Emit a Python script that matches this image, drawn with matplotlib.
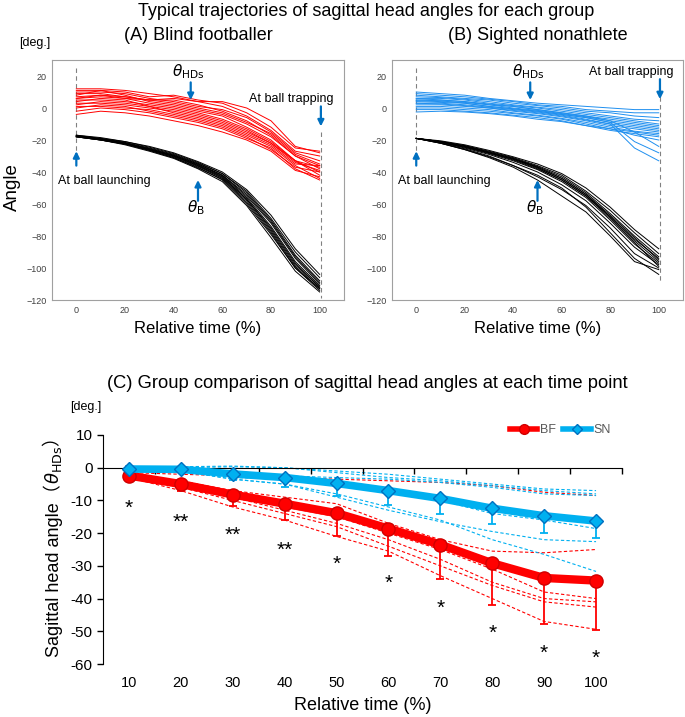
import matplotlib.pyplot as plt
from matplotlib.lines import Line2D

plt.rcParams['font.family'] = ['Liberation Sans', 'DejaVu Sans']
plt.rcParams['mathtext.fontset'] = 'dejavusans'

# ---- panels A and B: trajectories sampled every 10 % of relative time
time_pct = [0, 10, 20, 30, 40, 50, 60, 70, 80, 90, 100]

bf_head = [
    [12, 12, 11, 9, 7, 4, 1, -5, -14, -27, -30],
    [11, 11, 10, 7, 8, 5, 3, -3, -12, -25, -27],
    [10, 10, 9, 6, 4, 1, -1, -6, -15, -28, -33],
    [9, 9, 7, 5, 5, 2, -2, -8, -17, -30, -36],
    [8, 11, 8, 4, 2, -1, -4, -10, -18, -30, -38],
    [7, 8, 6, 5, 3, 0, -3, -9, -16, -29, -35],
    [6, 7, 6, 3, 1, -2, -5, -12, -20, -33, -40],
    [5, 5, 4, 2, 0, -3, -7, -13, -21, -33, -37],
    [4, 6, 5, 1, -1, -4, -8, -14, -22, -34, -39],
    [3, 3, 2, 0, -2, -5, -9, -15, -22, -33, -42],
    [2, 4, 3, 1, -3, -6, -10, -16, -23, -35, -36],
    [1, 1, 0, -1, -4, -7, -11, -17, -24, -36, -44],
    [0, 2, 1, -2, -5, -8, -12, -18, -26, -37, -40],
    [-2, 0, -1, -3, -6, -9, -13, -19, -25, -38, -45],
    [-4, -2, -3, -5, -8, -11, -15, -20, -27, -39, -43],
    [6, 8, 7, 5, 6, 4, 4, 0, -8, -24, -28],
]
bf_ball = [
    [-17, -19, -21, -24, -28, -33.5, -40, -51, -67, -88, -104],
    [-17.5, -19, -21.5, -25, -29, -34.5, -41, -53, -70, -92, -108],
    [-17.5, -19.5, -22, -25.5, -29.5, -35, -42, -55, -72, -94, -110],
    [-17.5, -19.5, -22, -25.5, -30, -35.5, -42.5, -56, -74, -96, -111],
    [-17.5, -19.5, -22, -26, -30, -36, -43, -57, -75, -97, -112],
    [-18, -20, -22.5, -26, -30.5, -36.5, -44, -58, -77, -99, -113],
    [-18, -20, -22.5, -26.5, -31, -37, -45, -60, -79, -100, -114],
    [-18, -20, -23, -27, -31.5, -38, -46, -61, -81, -102, -115],
    [-17.5, -19.5, -22, -25.5, -29.5, -35, -42, -54, -71, -93, -109],
    [-17.5, -19.5, -22, -26, -30, -36, -43.5, -57, -76, -98, -112],
    [-18, -20, -22.5, -26.5, -31, -37.5, -44.5, -59, -78, -100, -113],
    [-17, -18.5, -21, -24.5, -28.5, -34, -41, -52, -69, -90, -106],
]
sn_head = [
    [10, 9, 8, 6, 4.5, 3, 2, 1, 0, -1, -1],
    [9, 8, 7, 5.5, 4, 2, 1, -1, -2, -3, -3],
    [8, 7, 6, 5, 3, 1.5, 0, -2, -3, -5, -6],
    [7, 6.5, 5.5, 4, 2, 0.5, -1, -3, -5, -7, -8],
    [6, 6, 5, 3, 1.5, 0, -2, -4, -6, -8, -10],
    [5, 5, 4, 2.5, 1, -1, -3, -5, -7, -9, -11],
    [4.5, 4, 3.5, 2, 0, -1.5, -3.5, -5.5, -8, -10, -12],
    [4, 3.5, 3, 1, -0.5, -2, -4, -6, -9, -11, -13],
    [3, 3, 2, 0.5, -1, -2.5, -4.5, -7, -10, -12, -14],
    [2, 2, 1, 0, -2, -3.5, -5.5, -8, -11, -13, -15],
    [1, 1, 0, -1, -3, -4.5, -6.5, -9, -12, -14.5, -16],
    [0, 0, -1, -2, -3.5, -5, -7, -10, -13, -15, -17],
    [-1, -1, -2, -3, -4.5, -6, -8, -11, -14, -16, -18],
    [-2.5, -2, -2.5, -3.5, -5, -7, -8.5, -11, -13, -17, -20],
    [5, 4.5, 3, 1, -0.5, -2, -4, -6, -9, -21, -28],
    [3, 2.5, 1.5, 0, -1.5, -3, -5, -7.5, -10, -25, -33],
    [6, 5, 4, 2, 1, -1, -3, -5, -8, -15, -24],
]
sn_ball = [
    [-19, -20.5, -23, -26.5, -30.5, -35, -41, -50, -62, -76, -88],
    [-19, -21, -23.5, -27, -31, -36, -42, -52, -64, -78, -91],
    [-19, -21, -24, -27.5, -31.5, -36.5, -43, -53, -66, -80, -93],
    [-19, -21, -24, -28, -32, -37, -44, -54, -67, -81, -95],
    [-19, -21.5, -24.5, -28, -32.5, -38, -45, -55, -68, -83, -96],
    [-19, -21.5, -24.5, -28.5, -33, -38.5, -46, -56, -70, -85, -97],
    [-19, -21.5, -25, -29, -34, -40, -48, -58, -72, -87, -98],
    [-19, -22, -25.5, -30, -36, -43, -51, -61, -75, -91, -100],
    [-19, -22, -26, -31, -37, -45, -55, -65, -80, -96, -101],
    [-19, -22, -26, -30.5, -36, -42, -50, -62, -78, -94, -104],
    [-19, -21, -23.5, -27.5, -31.5, -37, -44, -54, -68, -82, -94],
    [-19, -21, -24, -28, -32, -37.5, -45, -55, -69, -84, -99],
]

# ---- panel C: group means, SD and individual subjects
groups = ['BF', 'SN']
time_points = [10, 20, 30, 40, 50, 60, 70, 80, 90, 100]
bf_mean = [-2.4, -5.0, -8.2, -11.0, -13.9, -18.6, -23.5, -29.2, -33.7, -34.5]
bf_sd = [1.2, 2.1, 3.6, 5.0, 7.0, 8.5, 10.6, 12.9, 14.2, 15.2]
sn_mean = [-0.4, -0.5, -1.9, -3.0, -4.8, -7.0, -9.4, -12.4, -14.7, -16.3]
sn_sd = [0.4, 0.5, 1.8, 3.0, 3.7, 4.3, 4.7, 4.8, 5.3, 5.1]
bf_subjects = [
    [-1.5, -2, -2.5, -3, -3.5, -4, -4.5, -5.5, -7.5, -8.5],
    [-2, -4, -7, -9, -11, -17, -22, -25.5, -26, -25],
    [-2, -5, -8, -12, -15, -20, -25, -31, -38, -40],
    [-2.5, -5.5, -9, -13, -17, -22, -28, -35, -40, -41],
    [-3, -6, -10, -14, -18, -24, -30, -36, -41, -42.6],
    [-3, -7, -12, -16, -21, -25.5, -33, -40, -47, -49.4],
]
sn_subjects = [
    [0, 0, 0.3, 0, -1, -2, -3.5, -5, -6.5, -7],
    [0, 0.3, 0.5, 0, -1.5, -3, -4, -5.5, -7, -8],
    [0, -0.5, -1, -2.5, -3, -3.5, -4.5, -6, -8, -8.5],
    [-0.5, -1, -3, -3.5, -5, -7, -10, -14, -16, -18.6],
    [-0.5, -1, -3.5, -5, -9, -13, -16.5, -19.5, -22, -22.6],
    [-1, -1, -3.5, -5, -8, -12, -16, -22, -26.5, -31.7],
]
sig_marks = ['*', '**', '**', '**', '*', '*', '*', '*', '*', '*']
sig_y = [-12.5, -16.7, -20.7, -25.3, -29.5, -35.3, -42.9, -50.5, -56.7, -58.2]

RED = '#FF0000'
BLUE_B = '#1F8FEF'
BLUE_C = '#00B0F0'
ARROW = '#0070C0'

W, H = 685, 717
fig = plt.figure(figsize=(W / 100, H / 100), dpi=100)


def px_rect(left, top, right, bottom):
    return [left / W, 1 - bottom / H, (right - left) / W, (bottom - top) / H]


def arrow(ax, x, y_tail, y_head):
    ax.annotate('', xy=(x, y_head), xytext=(x, y_tail),
                arrowprops=dict(arrowstyle='-|>', color=ARROW, lw=1.6,
                                mutation_scale=9, shrinkA=0, shrinkB=0))


def trajectory_panel(ax, head, ball, head_color, trap_text_y, trap_arrow, trap_dash):
    for tr in ball:
        ax.plot(time_pct, tr, color='black', lw=0.7)
    for tr in head:
        ax.plot(time_pct, tr, color=head_color, lw=0.7)
    ax.plot([0, 0], [25, -28], color='#808080', lw=0.8, ls=(0, (4, 3)), zorder=0)
    ax.plot([100.5, 100.5], trap_dash, color='#808080', lw=0.8, ls=(0, (4, 3)), zorder=0)

    arrow(ax, 0, -36, -27)
    ax.text(11.5, -45.5, 'At ball launching', ha='center', va='center', fontsize=9)
    arrow(ax, 47, 16, 5)
    ax.text(46, 23, r'$\theta_{\mathrm{HDs}}$', ha='center', va='center', fontsize=11)
    arrow(ax, 100.5, trap_arrow[0], trap_arrow[1])
    ax.text(88.5, trap_text_y, 'At ball trapping', ha='center', va='center', fontsize=9)
    arrow(ax, 50, -58, -45)
    ax.text(49, -62, r'$\theta_{\mathrm{B}}$', ha='center', va='center', fontsize=11)

    ax.set_xlim(-10, 110)
    ax.set_ylim(-120, 30)
    ax.set_xticks(range(0, 101, 20))
    ax.set_yticks(range(-120, 21, 20))
    ax.tick_params(labelsize=6.5, labelcolor='#404040', length=0, pad=4)
    for sp in ax.spines.values():
        sp.set_color('#A0A0A0')
        sp.set_linewidth(0.8)


ax_a = fig.add_axes(px_rect(52, 60, 344, 300))
trajectory_panel(ax_a, bf_head, bf_ball, RED, 5.5, (1, -11.5), (-15, -119))
ax_b = fig.add_axes(px_rect(392, 60, 683, 300))
trajectory_panel(ax_b, sn_head, sn_ball, BLUE_B, 22.5, (18, 5.5), (12, -108))

fig.text(366 / W, 1 - 12 / H, 'Typical trajectories of sagittal head angles for each group',
         ha='center', va='center', fontsize=13)
fig.text(198 / W, 1 - 36 / H, '(A) Blind footballer', ha='center', va='center', fontsize=13)
fig.text(538 / W, 1 - 36 / H, '(B) Sighted nonathlete', ha='center', va='center', fontsize=13)
fig.text(35 / W, 1 - 43 / H, '[deg.]', ha='center', va='center', fontsize=9)
fig.text(12 / W, 1 - 187 / H, 'Angle', rotation=90, ha='center', va='center', fontsize=13.5)
fig.text(198 / W, 1 - 328 / H, 'Relative time (%)', ha='center', va='center', fontsize=12)
fig.text(538 / W, 1 - 328 / H, 'Relative time (%)', ha='center', va='center', fontsize=12)

# ---- panel C
axc = fig.add_axes(px_rect(103, 435, 622, 664))
for s in bf_subjects:
    axc.plot(time_points, s, color=RED, lw=0.8, ls=(0, (3, 2)), zorder=1)
for s in sn_subjects:
    axc.plot(time_points, s, color=BLUE_C, lw=0.8, ls=(0, (3, 2)), zorder=1)

zeros = [0] * len(time_points)
axc.errorbar(time_points, bf_mean, yerr=[bf_sd, zeros], fmt='none', ecolor=RED,
             elinewidth=1.3, capsize=3, capthick=1.3, zorder=2)
axc.plot(time_points, bf_mean, color=RED, lw=6, marker='o', ms=9.5,
         mfc=RED, mec='#D00000', zorder=3)
axc.errorbar(time_points, sn_mean, yerr=[sn_sd, zeros], fmt='none', ecolor=BLUE_C,
             elinewidth=1.3, capsize=3, capthick=1.3, zorder=4)
axc.plot(time_points, sn_mean, color=BLUE_C, lw=5.5, marker='D', ms=7.5,
         mfc=BLUE_C, mec=ARROW, zorder=5)

for t, m, y in zip(time_points, sig_marks, sig_y):
    axc.text(t, y, m, ha='center', va='center', fontsize=15)

axc.set_xlim(5, 105)
axc.set_ylim(-60, 10)
axc.spines['top'].set_visible(False)
axc.spines['right'].set_visible(False)
axc.spines['bottom'].set_position(('data', 0))
axc.set_xticks(range(15, 106, 10))
axc.set_xticklabels([])
yt = list(range(-60, 11, 10))
axc.set_yticks(yt)
axc.set_yticklabels([str(v) for v in yt])
axc.tick_params(axis='both', direction='out', length=4, width=1, labelsize=11)
for t in time_points:
    axc.text(t, -0.083, str(t), transform=axc.get_xaxis_transform(),
             ha='center', va='center', fontsize=10.5)
axc.text(0.5, -0.18, 'Relative time (%)', transform=axc.transAxes,
         ha='center', va='center', fontsize=13)

handles = [
    Line2D([], [], color=RED, lw=4, marker='o', ms=7, mfc=RED, mec='#D00000'),
    Line2D([], [], color=BLUE_C, lw=4, marker='D', ms=5, mfc=BLUE_C, mec=ARROW),
]
axc.legend(handles, groups, loc='center right', bbox_to_anchor=(1.0, 1.02), ncol=2,
           frameon=False, fontsize=9, handlelength=2.2, handletextpad=0.2,
           columnspacing=0.6, labelcolor='#595959')

fig.text(367 / W, 1 - 383 / H,
         '(C) Group comparison of sagittal head angles at each time point',
         ha='center', va='center', fontsize=13.2)
fig.text(86 / W, 1 - 407 / H, '[deg.]', ha='center', va='center', fontsize=9)

cjk = ['Liberation Sans', 'Noto Sans CJK JP']
t1 = fig.text(53 / W, 1 - 657 / H, 'Sagittal head angle（', rotation=90,
              ha='center', va='bottom', fontsize=13, family=cjk)
t2 = axc.annotate(r'$\theta_{\mathrm{HDs}}$', xy=(0.5, 1.0), xycoords=t1, rotation=90,
                  ha='center', va='bottom', fontsize=13, annotation_clip=False)
axc.annotate('）', xy=(0.5, 1.0), xycoords=t2, rotation=90, ha='center', va='bottom',
             fontsize=13, family=cjk, annotation_clip=False)

fig.savefig('out.png', dpi=100)
